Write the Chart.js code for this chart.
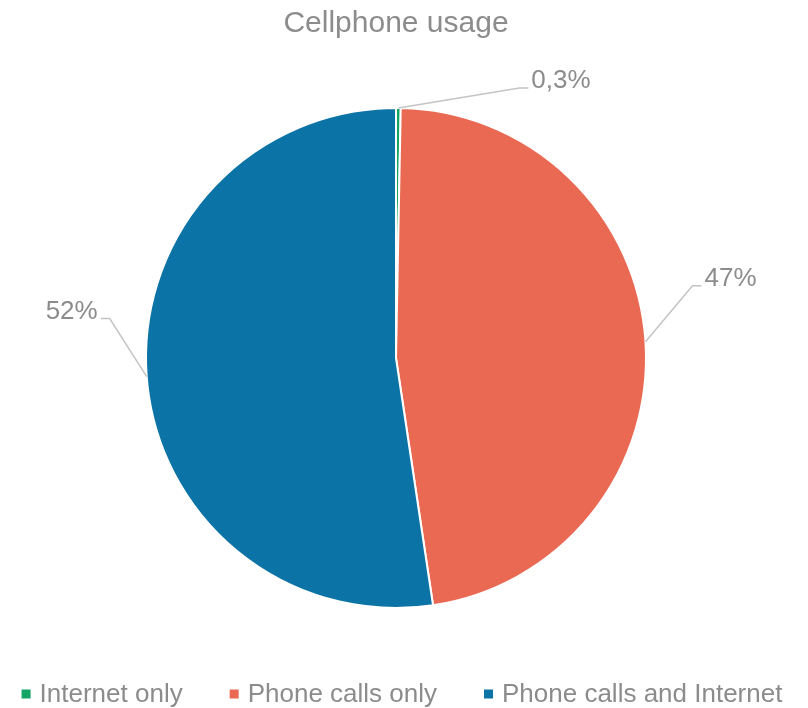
<!DOCTYPE html>
<html>
<head>
<meta charset="utf-8">
<title>Cellphone usage</title>
<script src="https://cdn.jsdelivr.net/npm/chart.js@4.4.1/dist/chart.umd.min.js"></script>
<style>
  html, body { margin: 0; padding: 0; background: #fff; }
  #wrap { width: 808px; height: 708px; }
</style>
</head>
<body>
<div id="wrap"><canvas id="chartUso"></canvas></div>
<script>
// --- datos ---
const categorias = ['Internet only', 'Phone calls only', 'Phone calls and Internet'];
const porcentajes = [0.3, 47, 52];
const coloresSector = ['#14a564', '#e96952', '#0c73a6'];

const GRIS_TEXTO = '#8c8c8c';
const FUENTE = '"Liberation Sans", Arial, sans-serif';

function formatoPct(v) {
    return String(v).replace('.', ',') + '%';
}

/**
 * Etiquetas de porcentaje con línea guía (codo + tramo horizontal)
 */
const pluginEtiquetas = {
    id: 'etiquetasSector',
    afterDatasetsDraw(chart, args, opts) {
        const ctx = chart.ctx;
        const meta = chart.getDatasetMeta(0);
        const valores = chart.data.datasets[0].data;
        ctx.save();
        ctx.font = `${opts.size}px ${FUENTE}`;
        meta.data.forEach((arc, i) => {
            const p = arc.getProps(['x', 'y', 'startAngle', 'endAngle', 'outerRadius'], true);
            const medio = (p.startAngle + p.endAngle) / 2;
            const ax = p.x + Math.cos(medio) * p.outerRadius;
            const ay = p.y + Math.sin(medio) * p.outerRadius;
            const [dx, dy] = opts.offsets[i];
            const ex = ax + dx, ey = ay + dy;
            const lado = dx >= 0 ? 1 : -1;
            const fx = ex + lado * opts.tail;

            ctx.strokeStyle = opts.lineColor;
            ctx.lineWidth = 1.5;
            ctx.beginPath();
            ctx.moveTo(ax, ay);
            ctx.lineTo(ex, ey);
            ctx.lineTo(fx, ey);
            ctx.stroke();

            ctx.fillStyle = GRIS_TEXTO;
            ctx.textBaseline = 'alphabetic';
            ctx.textAlign = lado > 0 ? 'left' : 'right';
            ctx.fillText(formatoPct(valores[i]), fx + lado * opts.gap, ey);
        });
        ctx.restore();
    }
};

/**
 * Leyenda inferior en una sola fila (cuadro pequeño + texto)
 */
const pluginLeyenda = {
    id: 'leyendaInferior',
    afterDraw(chart, args, opts) {
        const ctx = chart.ctx;
        const etiquetas = chart.data.labels;
        const colores = chart.data.datasets[0].backgroundColor;
        ctx.save();
        ctx.font = `${opts.size}px ${FUENTE}`;
        const anchos = etiquetas.map(t => ctx.measureText(t).width);
        const total = anchos.reduce((a, b) => a + b, 0)
            + etiquetas.length * (opts.box + opts.boxGap)
            + (etiquetas.length - 1) * opts.itemGap;
        let x = opts.centerX - total / 2;
        const y = opts.y;
        etiquetas.forEach((t, i) => {
            ctx.fillStyle = colores[i];
            ctx.fillRect(x, y - opts.box / 2 - 1, opts.box, opts.box);
            x += opts.box + opts.boxGap;
            ctx.fillStyle = GRIS_TEXTO;
            ctx.textAlign = 'left';
            ctx.textBaseline = 'middle';
            ctx.fillText(t, x, y);
            x += anchos[i] + opts.itemGap;
        });
        ctx.restore();
    }
};

const grafico = new Chart(document.getElementById('chartUso'), {
    type: 'pie',
    data: {
        labels: categorias,
        datasets: [{
            data: porcentajes,
            backgroundColor: coloresSector,
            borderColor: '#ffffff',
            borderWidth: 2,
            radius: 250
        }]
    },
    options: {
        responsive: true,
        maintainAspectRatio: false,
        animation: false,
        layout: { padding: { top: 0, right: 16, bottom: 34, left: 0 } },
        plugins: {
            legend: { display: false },
            tooltip: { enabled: false },
            title: {
                display: true,
                text: 'Cellphone usage',
                color: GRIS_TEXTO,
                font: { family: FUENTE, size: 30, weight: 'normal' },
                padding: { top: 6, bottom: 0 }
            },
            etiquetasSector: {
                size: 26,
                lineColor: '#c4c4c4',
                tail: 9,
                gap: 3,
                offsets: [[121, -20], [47, -56], [-37, -58]]
            },
            leyendaInferior: {
                size: 26,
                y: 695,
                centerX: 402,
                box: 9,
                boxGap: 9,
                itemGap: 47
            }
        }
    },
    plugins: [pluginEtiquetas, pluginLeyenda]
});
</script>
</body>
</html>
